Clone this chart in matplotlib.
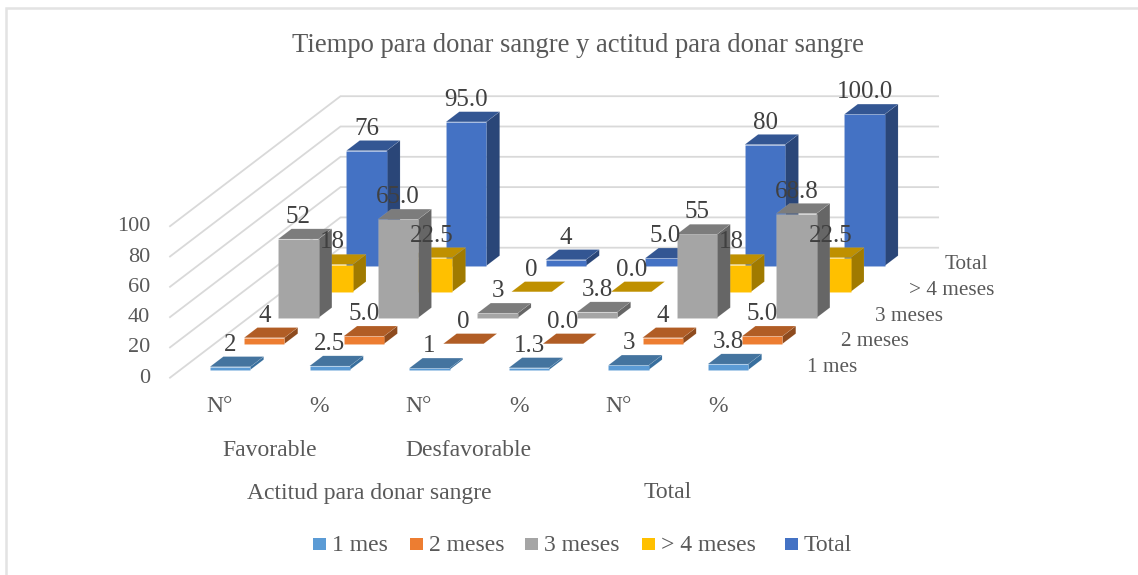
import matplotlib
matplotlib.use("Agg")
import matplotlib.pyplot as plt
from matplotlib.patches import Polygon, Rectangle

plt.rcParams['font.family'] = ['Liberation Serif', 'DejaVu Serif']

# Data
categories = ["N°", "%", "N°", "%", "N°", "%"]
series_names = ["1 mes", "2 meses", "3 meses", "> 4 meses", "Total"]
mes1 = [2, 2.5, 1, 1.3, 3, 3.8]
mes2 = [4, 5.0, 0, 0.0, 4, 5.0]
mes3 = [52, 65.0, 3, 3.8, 55, 68.8]
mes4 = [18, 22.5, 0, 0.0, 18, 22.5]
total = [76, 95.0, 4, 5.0, 80, 100.0]
labels1 = ["2", "2.5", "1", "1.3", "3", "3.8"]
labels2 = ["4", "5.0", "0", "0.0", "4", "5.0"]
labels3 = ["52", "65.0", "3", "3.8", "55", "68.8"]
labels4 = ["18", "22.5", "0", "0.0", "18", "22.5"]
labels5 = ["76", "95.0", "4", "5.0", "80", "100.0"]
group1 = [("Favorable", 1), ("Desfavorable", 3)]
group2 = [("Actitud para donar sangre", 2), ("Total", 5)]
yticks = [0, 20, 40, 60, 80, 100]
title = "Tiempo para donar sangre y actitud para donar sangre"

values = [mes1, mes2, mes3, mes4, total]
labels = [labels1, labels2, labels3, labels4, labels5]
front = ["#5B9BD5", "#ED7D31", "#A5A5A5", "#FFC000", "#4472C4"]
top = ["#44749F", "#B15D25", "#7C7C7C", "#BF9000", "#335693"]
side = ["#386F9E", "#8E4B1E", "#666666", "#A07A00", "#2A4678"]

W, H = 1138, 575
fig = plt.figure(figsize=(W / 100, H / 100), dpi=100)
ax = fig.add_axes([0, 0, 1, 1])
ax.set_xlim(0, W)
ax.set_ylim(H, 0)
ax.axis("off")

# Oblique projection: category position, depth row, value -> figure pixels
X0, Y0, CX, DX, DY, VZ = 170, 377.7, 99.6, 34.1, 26.0, 1.515
def proj(x, d, v):
    return (X0 + CX * x + DX * d, Y0 - DY * d - VZ * v)

ncat, nser = len(categories), len(series_names)
GRID = "#D9D9D9"
for v in yticks:
    pts = [proj(0, 0, v), proj(0, nser, v), proj(ncat, nser, v)]
    ax.plot(*zip(*pts), color=GRID, lw=1.3, zorder=1, solid_joinstyle="miter")

BW, BD = 0.405, 0.39
EDGE = (1, 1, 1, 0.12)
for s in range(nser - 1, -1, -1):
    d0, d1 = s + (1 - BD) / 2, s + (1 + BD) / 2
    for c in range(ncat):
        x0, x1 = c + (1 - BW) / 2, c + (1 + BW) / 2
        v = values[s][c]
        z = 2 + (nser - s) * 2
        ax.add_patch(Polygon([proj(x1, d0, 0), proj(x1, d1, 0), proj(x1, d1, v), proj(x1, d0, v)],
                             fc=side[s], ec=EDGE, lw=0.4, zorder=z))
        ax.add_patch(Polygon([proj(x0, d0, 0), proj(x1, d0, 0), proj(x1, d0, v), proj(x0, d0, v)],
                             fc=front[s], ec=EDGE, lw=0.4, zorder=z))
        ax.add_patch(Polygon([proj(x0, d0, v), proj(x1, d0, v), proj(x1, d1, v), proj(x0, d1, v)],
                             fc=top[s], ec=EDGE, lw=0.4, zorder=z))
        px, py = proj((x0 + x1) / 2, d0, v)
        ax.text(px, py - 22, labels[s][c], ha="center", va="center",
                fontsize=18, color="#404040", zorder=50)

TXT = "#595959"
for v in yticks:
    px, py = proj(0, 0, v)
    ax.text(150, py + 0.5, str(v), ha="right", va="center", fontsize=16, color=TXT)
for c, name in enumerate(categories):
    px, _ = proj(c + 0.5, 0, 0)
    ax.text(px, 407, name, ha="center", va="center", fontsize=17, color=TXT)
for name, pos in group1:
    ax.text(proj(pos, 0, 0)[0], 450, name, ha="center", va="center", fontsize=17, color=TXT)
for name, pos in group2:
    ax.text(proj(pos, 0, 0)[0], 493, name, ha="center", va="center", fontsize=17, color=TXT)

# Depth axis labels
for s, name in enumerate(series_names):
    py = 367.5 - 25.7 * s
    right = [857, 909, 943, 994, 988][s]
    ax.text(right, py, name, ha="right", va="center", fontsize=15.3, color=TXT)

ax.text(578, 46, title, ha="center", va="center", fontsize=19.2, color=TXT)

# Legend
leg_x = [313, 410, 525, 642, 785]
for x, name, col in zip(leg_x, series_names, front):
    ax.add_patch(Rectangle((x, 537.7), 12.7, 12.4, fc=col, ec="none"))
    ax.text(x + 19, 545.5, name, ha="left", va="center", fontsize=17, color=TXT)

# Chart frame (only the top and left edges fall inside the picture)
ax.plot([6.5, 6.5, W], [H, 8, 8], color="#E3E3E3", lw=1.8, zorder=0, solid_joinstyle="miter")

fig.savefig("out.png", dpi=100, facecolor="white")
